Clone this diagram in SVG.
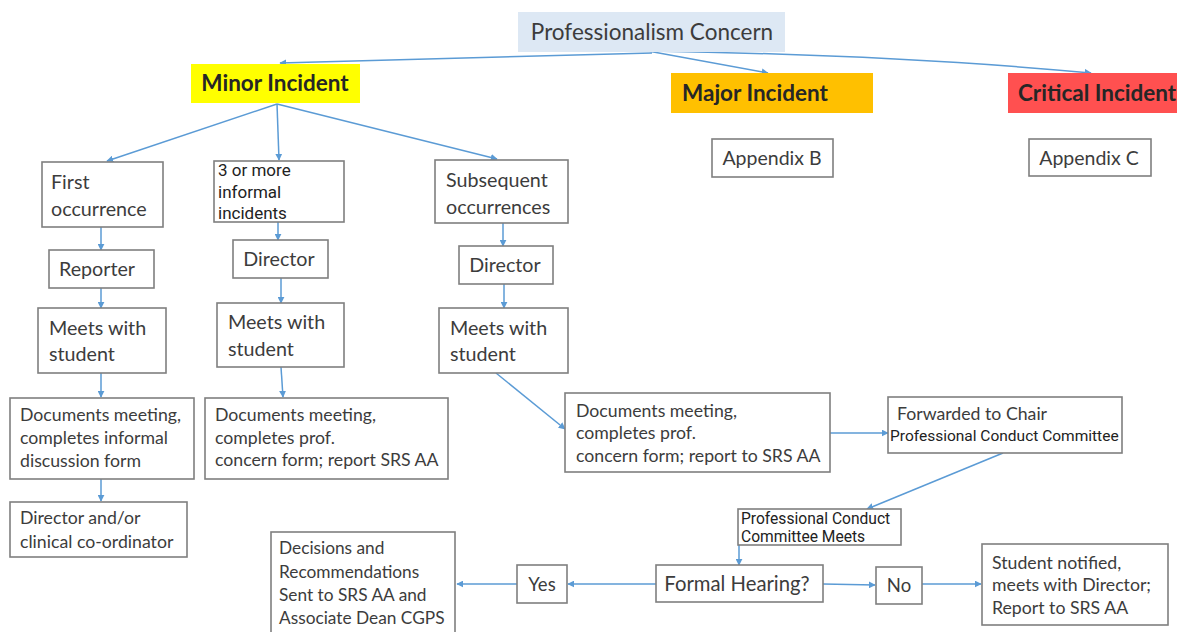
<svg xmlns="http://www.w3.org/2000/svg" width="1177" height="632" viewBox="0 0 1177 632">
<defs>
<marker id="ah" viewBox="0 0 10 10" refX="9" refY="5" markerWidth="7" markerHeight="7" markerUnits="userSpaceOnUse" orient="auto">
<path d="M0,0 L10,5 L0,10 z" fill="#5b9bd5"/>
</marker>
</defs>
<style>
.box{fill:#fff;stroke:#7f7f7f;stroke-width:1.6}
.t{font-family:Lato,"Liberation Sans",sans-serif;fill:#3c3c3c;font-size:17.7px}
.m{font-family:Lato,"Liberation Sans",sans-serif;fill:#3c3c3c;font-size:19.7px}
.r{font-family:Roboto,"Liberation Sans",sans-serif;fill:#222;font-size:17px}
.h{font-family:Lato,"Liberation Sans",sans-serif;fill:#262626;font-size:22.5px;font-weight:bold}
.c{fill:none;stroke:#5b9bd5;stroke-width:1.5;marker-end:url(#ah)}
</style>
<rect width="1177" height="632" fill="#fff"/>
<g id="connectors">
<path class="c" d="M652,53 L280,63"/>
<path class="c" d="M648,51 L768,73"/>
<path class="c" d="M650,51 Q900,55 1091,73"/>
<path class="c" d="M277,104 L107,161"/>
<path class="c" d="M277,104 L279,160"/>
<path class="c" d="M277,104 L497,159"/>
<path class="c" d="M101,227 L101,250"/>
<path class="c" d="M101,288 L101,308"/>
<path class="c" d="M101,373 L101,397"/>
<path class="c" d="M101,479 L101,501"/>
<path class="c" d="M278,222 L278,240"/>
<path class="c" d="M281,278 L281,303"/>
<path class="c" d="M281,367 L283,397"/>
<path class="c" d="M503,223 L503,246"/>
<path class="c" d="M504,284 L504,308"/>
<path class="c" d="M496,373 L565,429"/>
<path class="c" d="M830,433 L888,433"/>
<path class="c" d="M1003,453 L867,509"/>
<path class="c" d="M739,545 L739,565"/>
<path class="c" d="M656,584 L568,584"/>
<path class="c" d="M517,584 L457,584"/>
<path class="c" d="M823,584 L875,585"/>
<path class="c" d="M922,584 L981,584"/>
</g>
<g id="professionalism-concern">
<rect x="518" y="12" width="267" height="40" fill="#dde8f4"/>
<text class="t" x="652" y="40" text-anchor="middle" style="font-size:22.5px">Professionalism Concern</text>
</g>
<g id="minor-incident">
<rect x="191" y="64" width="169" height="39" fill="#ffff00"/>
<text class="h" x="275" y="91" text-anchor="middle">Minor Incident</text>
</g>
<g id="major-incident">
<rect x="671" y="73" width="202" height="40" fill="#ffc000"/>
<text class="h" x="682" y="101">Major Incident</text>
</g>
<g id="critical-incident">
<rect x="1008" y="73" width="169" height="40" fill="#ff5050"/>
<text class="h" x="1018" y="101">Critical Incident</text>
</g>
<g id="appendix-b">
<rect class="box" x="712" y="139" width="121" height="38"/>
<text class="t" x="772" y="165" text-anchor="middle" style="font-size:19.5px">Appendix B</text>
</g>
<g id="appendix-c">
<rect class="box" x="1029" y="139" width="122" height="37"/>
<text class="t" x="1089" y="165" text-anchor="middle" style="font-size:19.5px">Appendix C</text>
</g>
<g id="first-occurrence">
<rect class="box" x="42" y="162" width="121" height="65"/>
<text class="m" x="51" y="189">First</text>
<text class="m" x="51" y="216">occurrence</text>
</g>
<g id="three-or-more">
<rect class="box" x="214" y="161" width="130" height="61"/>
<text class="r" x="218" y="176">3 or more</text>
<text class="r" x="218" y="198">informal</text>
<text class="r" x="218" y="219">incidents</text>
</g>
<g id="subsequent">
<rect class="box" x="435" y="160" width="133" height="63"/>
<text class="m" x="446" y="187">Subsequent</text>
<text class="m" x="446" y="214">occurrences</text>
</g>
<g id="reporter">
<rect class="box" x="49" y="250" width="105" height="38"/>
<text class="m" x="97" y="276" text-anchor="middle">Reporter</text>
</g>
<g id="director-2">
<rect class="box" x="233" y="240" width="95" height="38"/>
<text class="m" x="279" y="266" text-anchor="middle">Director</text>
</g>
<g id="director-3">
<rect class="box" x="459" y="246" width="94" height="38"/>
<text class="m" x="505" y="272" text-anchor="middle">Director</text>
</g>
<g id="meets-1">
<rect class="box" x="38" y="308" width="128" height="65"/>
<text class="m" x="49" y="335">Meets with</text>
<text class="m" x="49" y="361">student</text>
</g>
<g id="meets-2">
<rect class="box" x="217" y="303" width="127" height="64"/>
<text class="m" x="228" y="329">Meets with</text>
<text class="m" x="228" y="356">student</text>
</g>
<g id="meets-3">
<rect class="box" x="439" y="308" width="129" height="65"/>
<text class="m" x="450" y="335">Meets with</text>
<text class="m" x="450" y="361">student</text>
</g>
<g id="docs-1">
<rect class="box" x="10" y="398" width="184" height="81"/>
<text class="t" x="20" y="421">Documents meeting,</text>
<text class="t" x="20" y="444"> completes informal</text>
<text class="t" x="20" y="467">discussion form</text>
</g>
<g id="docs-2">
<rect class="box" x="205" y="398" width="243" height="81"/>
<text class="t" x="215" y="421">Documents meeting,</text>
<text class="t" x="215" y="444"> completes prof.</text>
<text class="t" x="215" y="466">concern form; report SRS AA</text>
</g>
<g id="director-clinical">
<rect class="box" x="10" y="502" width="177" height="55"/>
<text class="t" x="20" y="524">Director and/or</text>
<text class="t" x="20" y="548">clinical co-ordinator</text>
</g>
<g id="docs-3">
<rect class="box" x="565" y="393" width="265" height="79"/>
<text class="t" x="576" y="417">Documents meeting,</text>
<text class="t" x="576" y="439"> completes prof.</text>
<text class="t" x="576" y="462">concern form; report to SRS AA</text>
</g>
<g id="forwarded">
<rect class="box" x="888" y="397" width="234" height="56"/>
<text class="t" x="897" y="420">Forwarded to Chair</text>
<text class="r" x="890" y="441" style="font-size:15.5px">Professional Conduct Committee</text>
</g>
<g id="pcc-meets">
<rect class="box" x="738" y="509" width="163" height="36"/>
<text class="r" x="741" y="524" style="font-size:15.6px">Professional Conduct</text>
<text class="r" x="741" y="542" style="font-size:15.6px">Committee Meets</text>
</g>
<g id="formal-hearing">
<rect class="box" x="656" y="565" width="167" height="37"/>
<text class="t" x="737" y="591" text-anchor="middle" style="font-size:20.3px">Formal Hearing?</text>
</g>
<g id="yes">
<rect class="box" x="517" y="565" width="50" height="38"/>
<text class="t" x="542" y="591" text-anchor="middle" style="font-size:18.5px">Yes</text>
</g>
<g id="no">
<rect class="box" x="876" y="567" width="46" height="37"/>
<text class="t" x="899" y="592" text-anchor="middle" style="font-size:18.5px">No</text>
</g>
<g id="decisions">
<rect class="box" x="271" y="532" width="184" height="110"/>
<text class="t" x="279" y="554" style="font-size:17.3px">Decisions and</text>
<text class="t" x="279" y="578" style="font-size:17.3px">Recommendations</text>
<text class="t" x="279" y="601" style="font-size:17.3px">Sent to SRS AA and</text>
<text class="t" x="279" y="624" style="font-size:17.3px">Associate Dean CGPS</text>
</g>
<g id="student-notified">
<rect class="box" x="982" y="544" width="186" height="81"/>
<text class="t" x="992" y="569">Student notified,</text>
<text class="t" x="992" y="591">meets with Director;</text>
<text class="t" x="992" y="614">Report to SRS AA</text>
</g>
</svg>
